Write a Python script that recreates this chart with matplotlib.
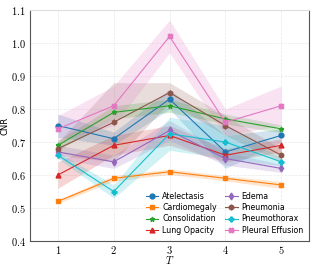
import matplotlib
matplotlib.use("Agg")
import matplotlib.pyplot as plt
import numpy as np
from matplotlib.ticker import FuncFormatter

plt.rcParams['mathtext.fontset'] = 'cm'

T = [1, 2, 3, 4, 5]

atelectasis = [0.75, 0.71, 0.83, 0.67, 0.72]
cardiomegaly = [0.52, 0.59, 0.61, 0.59, 0.57]
consolidation = [0.69, 0.79, 0.81, 0.77, 0.74]
lung_opacity = [0.60, 0.69, 0.72, 0.66, 0.69]
edema = [0.67, 0.64, 0.735, 0.65, 0.62]
pneumonia = [0.68, 0.76, 0.85, 0.75, 0.66]
pneumothorax = [0.66, 0.55, 0.725, 0.70, 0.64]
pleural_effusion = [0.74, 0.81, 1.02, 0.76, 0.81]

# spread (std) per point
atelectasis_sd = [0.035, 0.02, 0.03, 0.05, 0.02]
cardiomegaly_sd = [0.006, 0.008, 0.008, 0.008, 0.01]
consolidation_sd = [0.015, 0.02, 0.02, 0.015, 0.012]
lung_opacity_sd = [0.04, 0.03, 0.03, 0.02, 0.02]
edema_sd = [0.02, 0.02, 0.03, 0.02, 0.012]
pneumonia_sd = [0.02, 0.12, 0.03, 0.03, 0.02]
pneumothorax_sd = [0.01, 0.02, 0.05, 0.05, 0.012]
pleural_effusion_sd = [0.04, 0.06, 0.05, 0.04, 0.06]

names = ['Atelectasis', 'Cardiomegaly', 'Consolidation', 'Lung Opacity',
         'Edema', 'Pneumonia', 'Pneumothorax', 'Pleural Effusion']
means = [atelectasis, cardiomegaly, consolidation, lung_opacity,
         edema, pneumonia, pneumothorax, pleural_effusion]
sds = [atelectasis_sd, cardiomegaly_sd, consolidation_sd, lung_opacity_sd,
       edema_sd, pneumonia_sd, pneumothorax_sd, pleural_effusion_sd]
markers = ['o', 's', '*', '^', 'd', 'h', 'P', 'X']
colors = ['tab:blue', 'tab:orange', 'tab:green', 'tab:red',
          'tab:purple', 'tab:brown', 'tab:cyan', 'tab:pink']

fig = plt.figure(figsize=(3.19, 2.66), dpi=100)
ax = fig.add_axes([0.094, 0.094, 0.875, 0.868])

for name, m, s, mk, c in zip(names, means, sds, markers, colors):
    m = np.array(m)
    s = np.array(s)
    ax.fill_between(T, m - s, m + s, color=c, alpha=0.2, linewidth=0)
    ax.plot(T, m, marker=mk, color=c, label=name, linewidth=0.8, markersize=3.5)

ax.set_xlim(0.5, 5.5)
ax.set_ylim(0.4, 1.1)
ax.set_xticks(T)
ax.set_yticks([0.4, 0.5, 0.6, 0.7, 0.8, 0.9, 1.0, 1.1])
ax.xaxis.set_major_formatter(FuncFormatter(lambda v, p: f"${int(v)}$"))
ax.yaxis.set_major_formatter(FuncFormatter(lambda v, p: f"${v:.1f}$"))
ax.tick_params(labelsize=7.5, length=0, pad=3)
ax.tick_params(axis='x', pad=2)
ax.grid(True, color='#e8e8e8', linestyle='--', linewidth=0.5)
ax.set_axisbelow(True)

for side in ['left', 'bottom', 'right']:
    ax.spines[side].set_color('#555555')
    ax.spines[side].set_linewidth(0.8)
ax.spines['top'].set_color('#dddddd')

ax.set_xlabel('$T$', fontsize=7.5, labelpad=-1)
ax.set_ylabel('CNR', fontsize=6, labelpad=1)

ax.legend(loc='lower right', ncol=2, fontsize=5.7, frameon=False,
          handlelength=1.6, handletextpad=0.5, columnspacing=1.0,
          labelspacing=0.3, borderaxespad=0.4)

fig.savefig('out.png', dpi=100)
